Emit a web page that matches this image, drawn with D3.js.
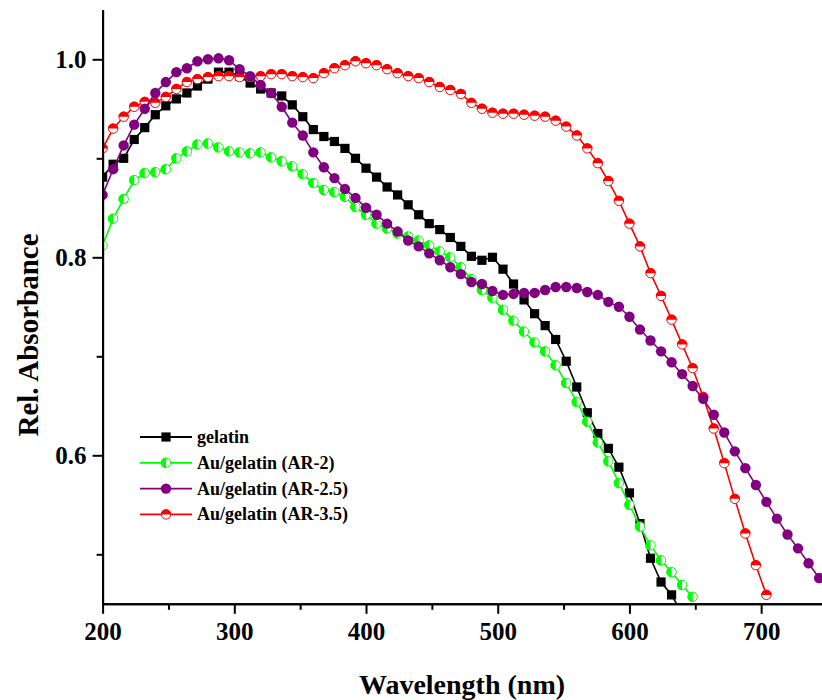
<!DOCTYPE html>
<html>
<head>
<meta charset="utf-8">
<script src="https://cdn.jsdelivr.net/npm/d3@7/dist/d3.min.js"></script>
<style>
  html, body { margin: 0; padding: 0; background: #fff; }
  svg { display: block; }
</style>
</head>
<body>
<svg id="chart" width="822" height="700"></svg>
<script>
// ---- data ----
const wavelength = [200,208,216,224,232,240,248,256,264,272,280,288,296,304,312,320,328,336,344,352,
  360,368,376,384,392,400,408,416,424,432,440,448,456,464,472,480,488,496,504,512,
  520,528,536,544,552,560,568,576,584,592,600,608,616,624,632,640,648,656,664,672,
  680,688,696,704,712,720,728,736,744];

const gelatin = [0.881,0.894,0.900,0.919,0.931,0.944,0.953,0.960,0.966,0.973,0.980,0.987,0.987,0.983,0.976,0.970,0.966,0.963,0.954,0.942,
  0.929,0.922,0.917,0.910,0.900,0.890,0.881,0.871,0.863,0.853,0.843,0.834,0.828,0.820,0.811,0.801,0.797,0.800,0.788,0.773,
  0.757,0.743,0.731,0.717,0.695,0.669,0.643,0.622,0.607,0.588,0.562,0.531,0.496,0.472,0.459,0.440];

const auAR2 = [0.812,0.839,0.859,0.878,0.885,0.886,0.889,0.900,0.907,0.914,0.915,0.911,0.907,0.906,0.905,0.906,0.901,0.897,0.892,0.884,
  0.875,0.868,0.866,0.861,0.851,0.843,0.834,0.829,0.824,0.821,0.817,0.812,0.806,0.800,0.790,0.778,0.767,0.759,0.747,0.736,
  0.725,0.714,0.705,0.691,0.673,0.654,0.634,0.613,0.594,0.572,0.550,0.528,0.509,0.494,0.482,0.469,0.457];

const auAR25 = [0.863,0.889,0.913,0.934,0.950,0.966,0.977,0.987,0.991,0.998,1.000,1.001,0.999,0.990,0.983,0.974,0.966,0.952,0.936,0.923,
  0.906,0.891,0.880,0.869,0.860,0.850,0.843,0.834,0.826,0.817,0.811,0.804,0.797,0.790,0.783,0.775,0.773,0.766,0.762,0.763,
  0.764,0.764,0.767,0.770,0.770,0.769,0.765,0.762,0.755,0.750,0.740,0.727,0.716,0.705,0.694,0.682,0.670,0.657,0.641,0.623,
  0.604,0.587,0.570,0.553,0.536,0.520,0.506,0.491,0.476];

const auAR35 = [0.910,0.930,0.942,0.952,0.957,0.956,0.962,0.970,0.977,0.980,0.982,0.983,0.983,0.982,0.982,0.983,0.985,0.985,0.983,0.982,
  0.981,0.986,0.991,0.994,0.998,0.996,0.994,0.990,0.986,0.983,0.981,0.977,0.972,0.969,0.965,0.956,0.950,0.946,0.945,0.945,
  0.944,0.943,0.942,0.938,0.932,0.923,0.910,0.895,0.877,0.857,0.834,0.811,0.784,0.761,0.737,0.712,0.688,0.659,0.627,0.592,
  0.556,0.521,0.489,0.459];

const seriesNames = ["gelatin", "Au/gelatin (AR-2)", "Au/gelatin (AR-2.5)", "Au/gelatin (AR-3.5)"];
const xMajorTicks = [200, 300, 400, 500, 600, 700];
const xMinorTicks = [250, 350, 450, 550, 650, 750];
const yMajorTicks = [0.6, 0.8, 1.0];
const yMinorTicks = [0.5, 0.7, 0.9];

(function () {
  const svg = d3.select("#chart");
  const pLeft = 102.6, pRight = 827, pTop = 9.8, pBottom = 603.8;
  const x = d3.scaleLinear().domain([200, 750]).range([pLeft, pRight]);
  const y = d3.scaleLinear().domain([0.45, 1.05]).range([pBottom, pTop]);
  const FONT = "'Liberation Serif', 'Times New Roman', serif";

  const series = [
    { name: seriesNames[0], values: gelatin, color: "#000000", marker: "square" },
    { name: seriesNames[1], values: auAR2, color: "#00ff00", marker: "halfLeft" },
    { name: seriesNames[3], values: auAR35, color: "#ff0000", marker: "halfTop" },
    { name: seriesNames[2], values: auAR25, color: "#800080", marker: "circle" }
  ];

  svg.append("defs").append("clipPath").attr("id", "plotclip")
    .append("rect").attr("x", pLeft).attr("y", pTop).attr("width", 822 - pLeft).attr("height", pBottom - pTop);

  const R = 5.2;
  function drawMarker(g, type, color) {
    if (type === "square") {
      g.append("rect").attr("x", -4.6).attr("y", -4.6).attr("width", 9.2).attr("height", 9.2).attr("fill", color);
    } else if (type === "circle") {
      g.append("circle").attr("r", R).attr("fill", color);
    } else if (type === "halfTop") {
      g.append("circle").attr("r", R - 0.5).attr("fill", "#fff").attr("stroke", color).attr("stroke-width", 1);
      g.append("path").attr("d", `M${-R},0 A${R},${R} 0 0 1 ${R},0 Z`).attr("fill", color);
    } else if (type === "halfLeft") {
      g.append("circle").attr("r", R - 0.5).attr("fill", "#fff").attr("stroke", color).attr("stroke-width", 1);
      g.append("path").attr("d", `M0,${-R} A${R},${R} 0 0 0 0,${R} Z`).attr("fill", color);
    }
  }

  const plot = svg.append("g").attr("clip-path", "url(#plotclip)");
  const line = d3.line().x((d) => x(d[0])).y((d) => y(d[1]));

  series.forEach((s) => {
    const pts = s.values.map((v, i) => [wavelength[i], v]);
    const g = plot.append("g");
    g.append("path").datum(pts).attr("d", line).attr("fill", "none")
      .attr("stroke", s.color).attr("stroke-width", 1.6);
    pts.forEach((p) => {
      const mg = g.append("g").attr("transform", `translate(${x(p[0])},${y(p[1])})`);
      drawMarker(mg, s.marker, s.color);
    });
  });

  const xAxis = d3.axisBottom(x).tickValues(xMajorTicks).tickSize(10).tickSizeOuter(0).tickPadding(8).tickFormat(d3.format("d"));
  const xAxisMinor = d3.axisBottom(x).tickValues(xMinorTicks).tickSize(6).tickSizeOuter(0).tickFormat("");
  const gx = svg.append("g").attr("transform", `translate(0,${pBottom})`).call(xAxis);
  const gxm = svg.append("g").attr("transform", `translate(0,${pBottom})`).call(xAxisMinor);

  const yAxis = d3.axisLeft(y).tickValues(yMajorTicks).tickSize(10).tickSizeOuter(0).tickPadding(6).tickFormat(d3.format(".1f"));
  const yAxisMinor = d3.axisLeft(y).tickValues(yMinorTicks).tickSize(6).tickSizeOuter(0).tickFormat("");
  const gy = svg.append("g").attr("transform", `translate(${pLeft},0)`).call(yAxis);
  const gym = svg.append("g").attr("transform", `translate(${pLeft},0)`).call(yAxisMinor);

  [gx, gxm, gy, gym].forEach((g) => {
    g.selectAll("path.domain").attr("stroke", "#000").attr("stroke-width", 2);
    g.selectAll(".tick line").attr("stroke", "#000").attr("stroke-width", 2);
    g.selectAll(".tick text").attr("fill", "#000").attr("font-family", FONT)
      .attr("font-weight", "bold").attr("font-size", 25);
  });

  svg.append("text").attr("x", 462).attr("y", 694).attr("text-anchor", "middle")
    .attr("font-family", FONT).attr("font-weight", "bold").attr("font-size", 28)
    .text("Wavelength (nm)");
  svg.append("text").attr("transform", "translate(38,335) rotate(-90)").attr("text-anchor", "middle")
    .attr("font-family", FONT).attr("font-weight", "bold").attr("font-size", 29)
    .text("Rel. Absorbance");

  const legendItems = [
    { name: seriesNames[0], color: "#000000", marker: "square" },
    { name: seriesNames[1], color: "#00ff00", marker: "halfLeft" },
    { name: seriesNames[2], color: "#800080", marker: "circle" },
    { name: seriesNames[3], color: "#ff0000", marker: "halfTop" }
  ];
  const legend = svg.append("g");
  legendItems.forEach((it, i) => {
    const ly = 437 + i * 25.8;
    legend.append("line").attr("x1", 140).attr("x2", 192).attr("y1", ly).attr("y2", ly)
      .attr("stroke", it.color).attr("stroke-width", 1.8);
    drawMarker(legend.append("g").attr("transform", `translate(166,${ly})`), it.marker, it.color);
    legend.append("text").attr("x", 197).attr("y", ly + 6).attr("font-family", FONT)
      .attr("font-weight", "bold").attr("font-size", 18).attr("fill", "#000").text(it.name);
  });
})();
</script>
</body>
</html>
